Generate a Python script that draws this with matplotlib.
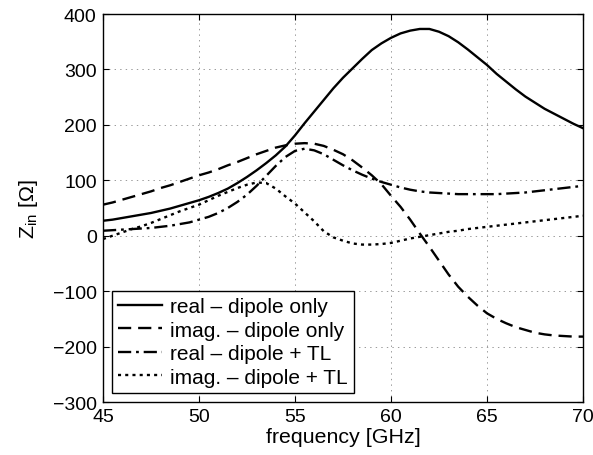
import numpy as np
import matplotlib
matplotlib.use("Agg")
import matplotlib.pyplot as plt

plt.rcParams['font.family'] = ['Liberation Sans', 'DejaVu Sans']
plt.rcParams['lines.scale_dashes'] = False
plt.rcParams['axes.unicode_minus'] = True

freq = [45, 45.5, 46, 46.5, 47, 47.5, 48, 48.5, 49, 49.5,
        50, 50.5, 51, 51.5, 52, 52.5, 53, 53.5, 54, 54.5,
        55, 55.5, 56, 56.5, 57, 57.5, 58, 58.5, 59, 59.5,
        60, 60.5, 61, 61.5, 62, 62.5, 63, 63.5, 64, 64.5,
        65, 65.5, 66, 66.5, 67, 67.5, 68, 68.5, 69, 69.5, 70]

real_dipole = [27, 29, 32, 35, 38, 41, 45, 49, 54, 59,
               64, 70, 77, 85, 95, 106, 118, 131, 145, 161,
               181, 203, 224, 245, 266, 285, 302, 319, 335, 347,
               357, 365, 370, 373, 373, 368, 360, 349, 336, 322,
               308, 292, 278, 264, 251, 240, 229, 220, 211, 202, 194]

imag_dipole = [56, 60, 65, 70, 75, 80, 86, 91, 97, 103,
               109, 114, 120, 127, 133, 140, 147, 153, 159, 163,
               166, 167, 166, 162, 155, 147, 136, 123, 109, 93,
               72, 52, 29, 4, -20, -45, -70, -92, -110, -126,
               -140, -150, -158, -165, -170, -175, -178, -180, -181, -182, -182]

real_tl = [9, 10, 11, 12, 13, 14, 16, 18, 21, 24,
           29, 34, 41, 50, 61, 74, 90, 108, 126, 142,
           153, 157, 154, 147, 137, 127, 118, 110, 103, 97,
           92, 87, 83, 80, 78, 77, 76, 75, 75, 75,
           75, 75, 76, 77, 78, 80, 82, 84, 86, 88, 90]

imag_tl = [-6, 0, 6, 12, 17, 23, 30, 37, 44, 50,
           56, 64, 72, 79, 86, 92, 96, 95, 85, 71,
           58, 42, 26, 8, -3, -9, -14, -16, -16, -15,
           -13, -9, -5, -2, 1, 4, 7, 9, 12, 14,
           16, 18, 20, 22, 24, 26, 28, 30, 32, 34, 36]

labels = ["real \u2013 dipole only", "imag. \u2013 dipole only",
          "real \u2013 dipole + TL", "imag. \u2013 dipole + TL"]

xticks = [45, 50, 55, 60, 65, 70]
yticks = [-300, -200, -100, 0, 100, 200, 300, 400]

FS = 14
FS_LABEL = 15.4
FS_LEG = 15

fig = plt.figure(figsize=(5.93, 4.56), dpi=100)
ax = fig.add_axes([103/593, 1-403/456, (583-103)/593, (403-15)/456])

lw = 1.7
ax.plot(freq, real_dipole, color='black', lw=lw, linestyle='-', label=labels[0])
ax.plot(freq, imag_dipole, color='black', lw=lw, linestyle=(0, (9.5, 5.0)), label=labels[1])
ax.plot(freq, real_tl, color='black', lw=lw, linestyle=(0, (9.5, 3.5, 2.0, 3.5)), label=labels[2])
ax.plot(freq, imag_tl, color='black', lw=lw, linestyle=(0, (2.2, 3.0)), label=labels[3])

ax.set_xlim(45, 70)
ax.set_ylim(-300, 400)
ax.set_xticks(xticks)
ax.set_yticks(yticks)
ax.tick_params(direction='in', top=True, right=True, length=4, width=0.8,
               labelsize=FS, colors='black')
ax.tick_params(axis='x', pad=4.5)
ax.tick_params(axis='y', pad=4.5)
ax.grid(True, linestyle=(0, (1, 3)), color='#999999', linewidth=0.7)
for s in ax.spines.values():
    s.set_linewidth(1.0)
    s.set_color('black')

ax.set_xlabel('frequency [GHz]', fontsize=FS_LABEL, labelpad=1)
ax.set_ylabel('Z$_\\mathregular{in}$ [\u03a9]', fontsize=FS_LABEL, labelpad=9)

leg = ax.legend(loc='lower left', bbox_to_anchor=((112-103)/480, (403-394)/388),
                borderaxespad=0, fontsize=FS_LEG, frameon=True, fancybox=False,
                edgecolor='black', handlelength=2.1, handletextpad=0.4,
                labelspacing=0.22, borderpad=0.3)
leg.get_frame().set_linewidth(1.0)
leg.get_frame().set_alpha(1)

fig.savefig('out.png', dpi=100)
